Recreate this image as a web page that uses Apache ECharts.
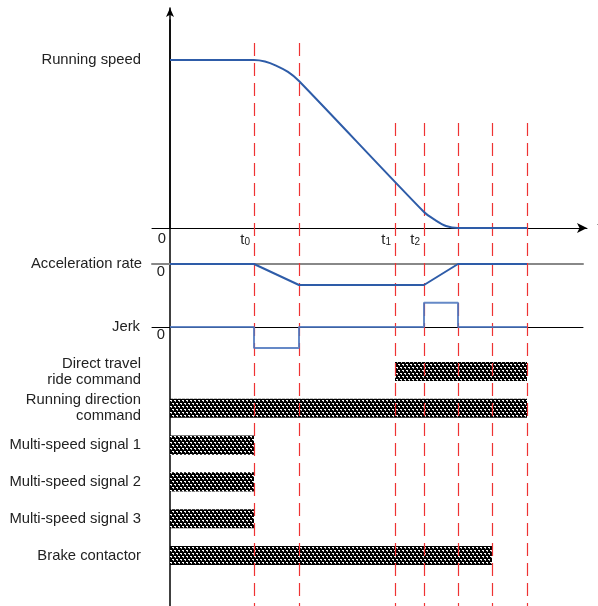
<!DOCTYPE html>
<html>
<head>
<meta charset="utf-8">
<script src="https://cdn.jsdelivr.net/npm/echarts@6/dist/echarts.min.js"></script>
<style>html,body{margin:0;padding:0;background:#fff;}#c{width:598px;height:606px;}</style>
</head>
<body>
<div id="c"></div>
<script>
// ---- data ----
const guideTimes = [8.4, 12.9, 22.5, 25.4, 28.8, 32.2, 35.7];
const tickTimes = [0, 8.4, 22.5, 25.4];
const tickLabels = ['0', 't0', 't1', 't2'];
const speedT = [0, 8.4, 9.5, 10.6, 11.8, 12.9, 25.4, 26.5, 27.6, 28.8, 35.7];
const speedV = [1, 1, 0.991, 0.967, 0.929, 0.875, 0.095, 0.048, 0.012, 0, 0];
const accelT = [0, 8.4, 12.9, 25.4, 28.8, 35.7];
const accelV = [0, 0, -1, -1, 0, 0];
const jerkT = [0, 8.4, 12.9, 25.4, 28.8, 35.7];
const jerkV = [0, -1, 0, 1.15, 0, 0];
const signalNames = ['Direct travel\nride command', 'Running direction\ncommand', 'Multi-speed signal 1', 'Multi-speed signal 2', 'Multi-speed signal 3', 'Brake contactor'];
const signalStart = [22.5, 0, 0, 0, 0, 0];
const signalEnd = [35.7, 35.7, 8.4, 8.4, 8.4, 32.2];

// ---- layout / style ----
const FONT = 'Liberation Sans, Arial, sans-serif';
const FS = 14.8;
const TXT = '#222';
const BLUE = '#2e5ca8';
const XMIN = -1.8;
const PX = 10; // px per time unit
const LEFT = 152;
function xAx(gi, right, extra) {
  return Object.assign({
    type: 'value', gridIndex: gi, min: XMIN, max: XMIN + (right - LEFT) / PX,
    splitLine: {show: false}, axisTick: {show: false}, axisLabel: {show: false},
    axisLine: {show: false}
  }, extra || {});
}
const zip = (a, b) => a.map((v, i) => [v, b[i]]);

function makePattern() {
  const c = document.createElement('canvas');
  c.width = 4; c.height = 6;
  const g = c.getContext('2d');
  g.fillStyle = '#000'; g.fillRect(0, 0, 4, 6);
  g.fillStyle = '#fff';
  g.fillRect(0, 1, 2, 1);
  g.fillRect(2, 4, 2, 1);
  g.fillStyle = '#bbb';
  g.fillRect(1, 2, 1, 1);
  g.fillRect(3, 5, 1, 1);
  return c;
}
const pattern = makePattern();

const chart = echarts.init(document.getElementById('c'), null, {renderer: 'canvas'});
const gridBase = {left: LEFT, outerBoundsMode: 'none', containLabel: false};

const option = {
  animation: false,
  textStyle: {fontFamily: FONT},
  grid: [
    Object.assign({width: 435, top: 8, height: 220}, gridBase),        // speed
    Object.assign({width: 431, top: 240.9, height: 46.2}, gridBase),   // accel
    Object.assign({width: 431, top: 297.6, height: 58.8}, gridBase),   // jerk
    Object.assign({width: 430, top: 353.1, height: 220.8}, gridBase),  // signals
    Object.assign({width: 430, top: 20, height: 586}, gridBase)        // guides
  ],
  xAxis: [
    xAx(0, 587, {
      axisLine: {show: true, lineStyle: {color: '#000', width: 1}, symbol: ['none', 'arrow'], symbolSize: [7.5, 10]},
      name: 't', nameGap: 10, nameTextStyle: {color: '#888', fontSize: FS},
      axisLabel: {
        show: true, customValues: tickTimes, margin: 3, align: 'right', verticalAlign: 'top',
        padding: [0, 4, 0, 0], color: TXT, fontSize: FS,
        formatter: function (v) {
          const i = tickTimes.indexOf(v);
          const s = tickLabels[i];
          if (s.length > 1) return '{a|' + s[0] + '}{s|' + s.slice(1) + '}';
          return s;
        },
        rich: {a: {fontSize: FS, color: TXT, fontFamily: FONT, verticalAlign: 'bottom', lineHeight: 16},
               s: {fontSize: 10, color: TXT, fontFamily: FONT, verticalAlign: 'bottom', lineHeight: 12}}
      }
    }),
    xAx(1, 583, {axisLine: {show: true, onZero: true, lineStyle: {color: '#888', width: 2}}}),
    xAx(2, 583, {axisLine: {show: true, onZero: true, lineStyle: {color: '#000', width: 1}}}),
    xAx(3, 582),
    xAx(4, 582)
  ],
  yAxis: [
    {type: 'value', gridIndex: 0, min: 0, max: 1.3095, splitLine: {show: false}, axisTick: {show: false},
     axisLine: {show: true, onZero: true, lineStyle: {color: '#000', width: 1.5}, symbol: ['none', 'arrow'], symbolSize: [6, 9]},
     axisLabel: {customValues: [1], formatter: () => 'Running speed', margin: 11, color: TXT, fontSize: FS}},
    {type: 'value', gridIndex: 1, min: -1.1, max: 1.1, splitLine: {show: false}, axisTick: {show: false},
     axisLine: {show: false, onZero: true},
     name: 'Acceleration rate', nameLocation: 'middle', nameRotate: 0, nameGap: 10,
     nameTextStyle: {color: TXT, fontSize: FS, align: 'right', verticalAlign: 'middle'},
     axisLabel: {customValues: [0], formatter: () => '0', margin: -13, verticalAlign: 'top', align: 'right', color: TXT, fontSize: FS}},
    {type: 'value', gridIndex: 2, min: -1.4, max: 1.4, splitLine: {show: false}, axisTick: {show: false},
     axisLine: {show: false, onZero: true},
     name: 'Jerk', nameLocation: 'middle', nameRotate: 0, nameGap: 12,
     nameTextStyle: {color: TXT, fontSize: FS, align: 'right', verticalAlign: 'middle'},
     axisLabel: {customValues: [0], formatter: () => '0', margin: -13, verticalAlign: 'top', align: 'right', color: TXT, fontSize: FS}},
    {type: 'category', gridIndex: 3, data: signalNames, inverse: true, splitLine: {show: false},
     axisTick: {show: false}, axisLine: {show: false, onZero: true},
     axisLabel: {margin: 11, color: TXT, fontSize: FS, lineHeight: 16, align: 'right'}},
    {type: 'value', gridIndex: 4, min: 0, max: 1, splitLine: {show: false}, axisTick: {show: false},
     axisLabel: {show: false}, axisLine: {show: true, onZero: true, lineStyle: {color: '#000', width: 1.5}}}
  ],
  series: [
    {type: 'line', name: 'speed', xAxisIndex: 0, yAxisIndex: 0, data: zip(speedT, speedV), smooth: 0.3,
     symbol: 'none', lineStyle: {color: BLUE, width: 2}, z: 5},
    {type: 'line', name: 'accel', xAxisIndex: 1, yAxisIndex: 1, data: zip(accelT, accelV),
     symbol: 'none', lineStyle: {color: BLUE, width: 2}, z: 5},
    {type: 'line', name: 'jerk', xAxisIndex: 2, yAxisIndex: 2, data: zip(jerkT, jerkV), step: 'end',
     symbol: 'none', lineStyle: {color: '#4a74bd', width: 2, opacity: 0.85}, z: 5},
    {type: 'custom', name: 'signals', xAxisIndex: 3, yAxisIndex: 3, z: 2,
     data: signalNames.map((n, i) => [i, signalStart[i], signalEnd[i]]),
     encode: {x: [1, 2], y: 0},
     renderItem: function (params, api) {
       const lane = api.value(0);
       const p0 = api.coord([api.value(1), lane]);
       const p1 = api.coord([api.value(2), lane]);
       const h = api.size([0, 1])[1] * 0.52;
       return {type: 'rect', shape: {x: p0[0], y: p0[1] - h / 2, width: p1[0] - p0[0], height: h},
               style: {fill: {image: pattern, repeat: 'repeat'}}};
     }},
    {type: 'line', name: 'guides', xAxisIndex: 4, yAxisIndex: 4, data: [], z: 3,
     markLine: {silent: true, symbol: 'none', animation: false, label: {show: false},
       lineStyle: {color: '#ee3333', width: 1.2, type: [13, 7]},
       data: guideTimes.map((t, i) => [{xAxis: t, y: i < 2 ? 43 : 123}, {xAxis: t, y: 606}])}}
  ]
};
chart.setOption(option);
</script>
</body>
</html>
